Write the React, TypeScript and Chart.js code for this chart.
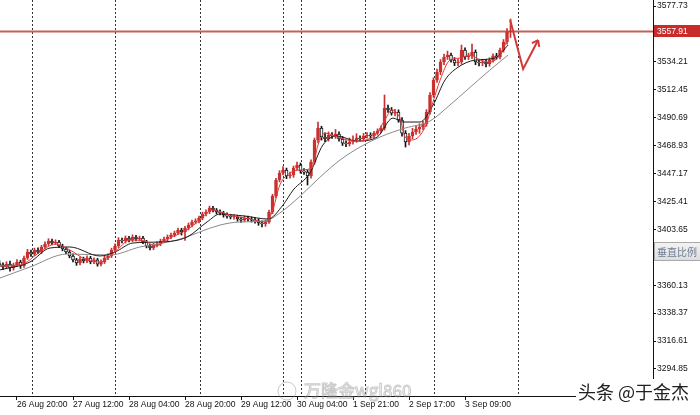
import React, { useEffect, useRef } from 'react';
import { Chart, registerables } from 'chart.js';

Chart.register(...registerables);

// ---- H1 candles (bar index 0..146) ----
const opens = [
  3377.0, 3375.9, 3374.3, 3376.6, 3373.5, 3375.9, 3378.2, 3375.1, 3381.3, 3386.0,
  3384.4, 3387.5, 3386.0, 3389.9, 3392.2, 3394.6, 3393.0, 3393.8, 3390.7, 3388.3,
  3386.0, 3382.9, 3379.8, 3377.4, 3380.5, 3379.0, 3381.3, 3378.2, 3379.8, 3376.6,
  3378.2, 3381.3, 3382.9, 3387.5, 3390.7, 3395.3, 3394.6, 3396.9, 3395.3, 3397.7,
  3396.1, 3396.9, 3393.8, 3390.7, 3389.1, 3391.4, 3392.2, 3394.6, 3396.1, 3397.7,
  3399.2, 3400.8, 3403.1, 3401.6, 3404.7, 3407.0, 3409.4, 3410.2, 3412.5, 3415.6,
  3417.2, 3420.3, 3418.7, 3417.2, 3416.4, 3414.8, 3414.0, 3413.3, 3413.3, 3411.7,
  3410.9, 3412.5, 3411.7, 3410.9, 3410.2, 3408.6, 3407.8, 3409.4, 3417.2, 3429.6,
  3442.1, 3447.6, 3449.9, 3445.2, 3446.0, 3451.5, 3453.8, 3449.1, 3448.3, 3445.2,
  3456.1, 3473.3, 3482.6, 3475.6, 3474.1, 3477.2, 3476.4, 3478.0, 3474.1, 3470.9,
  3470.2, 3471.7, 3473.3, 3474.8, 3474.1, 3476.4, 3477.2, 3476.4, 3478.7, 3480.3,
  3482.6, 3498.2, 3496.7, 3494.3, 3495.1, 3488.9, 3478.7, 3471.7, 3476.4, 3479.5,
  3481.9, 3483.4, 3485.8, 3495.1, 3508.4, 3520.0, 3526.3, 3534.1, 3538.0, 3539.5,
  3535.6, 3533.3, 3534.1, 3543.4, 3538.0, 3538.8, 3541.9, 3534.1, 3533.3, 3534.1,
  3532.5, 3535.6, 3538.8, 3538.0, 3543.4, 3549.7, 3557.5,
];
const highs = [
  3379.2, 3377.5, 3378.4, 3378.9, 3377.3, 3380.1, 3379.6, 3382.8, 3388.1, 3387.4,
  3389.0, 3389.3, 3391.2, 3394.0, 3396.4, 3396.1, 3395.5, 3395.0, 3392.1, 3389.6,
  3387.2, 3384.5, 3381.1, 3382.3, 3382.0, 3383.1, 3382.6, 3381.4, 3381.0, 3379.9,
  3382.9, 3384.6, 3389.0, 3392.4, 3397.2, 3396.8, 3398.5, 3398.3, 3399.4, 3399.0,
  3398.4, 3398.2, 3395.1, 3392.0, 3392.9, 3393.9, 3396.0, 3397.6, 3399.3, 3400.7,
  3402.3, 3404.6, 3404.5, 3406.1, 3408.6, 3410.8, 3411.9, 3413.9, 3417.0, 3418.8,
  3421.8, 3421.5, 3419.9, 3418.8, 3417.7, 3416.5, 3415.4, 3415.0, 3414.6, 3413.2,
  3414.2, 3414.0, 3413.3, 3412.6, 3411.8, 3410.3, 3411.0, 3418.6, 3431.0, 3443.5,
  3449.4, 3452.6, 3451.4, 3448.2, 3453.0, 3456.0, 3455.3, 3451.0, 3450.2, 3457.8,
  3474.8, 3487.3, 3484.0, 3478.9, 3479.6, 3479.0, 3481.5, 3479.6, 3476.0, 3472.6,
  3474.9, 3476.6, 3478.2, 3476.5, 3478.4, 3479.0, 3478.9, 3480.1, 3482.0, 3484.3,
  3508.4, 3500.5, 3498.6, 3497.2, 3496.8, 3490.7, 3480.6, 3478.5, 3482.4, 3484.6,
  3486.0, 3488.1, 3497.0, 3510.2, 3521.8, 3528.5, 3536.0, 3540.2, 3542.6, 3541.0,
  3537.5, 3536.6, 3547.3, 3545.2, 3541.0, 3548.1, 3543.5, 3536.3, 3536.0, 3536.2,
  3537.4, 3540.5, 3540.9, 3545.0, 3551.6, 3560.2, 3567.6,
];
const lows = [
  3374.6, 3372.2, 3372.9, 3371.0, 3371.8, 3374.5, 3373.2, 3374.0, 3380.2, 3382.5,
  3383.1, 3384.6, 3384.8, 3388.5, 3391.0, 3391.6, 3391.8, 3389.4, 3386.9, 3384.7,
  3381.4, 3378.3, 3375.6, 3376.0, 3377.5, 3377.6, 3376.8, 3376.9, 3374.9, 3375.2,
  3377.0, 3380.0, 3381.6, 3386.2, 3389.5, 3393.1, 3393.0, 3393.9, 3394.0, 3394.6,
  3394.5, 3392.4, 3389.2, 3387.6, 3387.8, 3390.0, 3390.9, 3393.2, 3394.8, 3396.4,
  3397.9, 3399.5, 3399.2, 3395.0, 3403.2, 3405.6, 3408.0, 3408.7, 3411.1, 3414.2,
  3415.9, 3417.2, 3415.6, 3414.8, 3413.1, 3412.3, 3411.8, 3411.6, 3410.0, 3409.1,
  3409.5, 3410.1, 3409.3, 3408.5, 3406.8, 3405.6, 3406.0, 3408.2, 3415.9, 3428.1,
  3440.6, 3446.0, 3443.1, 3443.5, 3444.2, 3449.8, 3447.4, 3446.4, 3438.2, 3443.6,
  3454.5, 3471.0, 3473.2, 3472.0, 3472.4, 3474.6, 3474.5, 3472.3, 3469.0, 3468.1,
  3468.6, 3470.0, 3471.5, 3472.6, 3472.5, 3474.8, 3474.6, 3474.9, 3477.1, 3478.8,
  3481.0, 3494.8, 3492.6, 3492.0, 3487.1, 3476.2, 3467.8, 3469.5, 3474.2, 3477.6,
  3478.5, 3481.2, 3484.0, 3493.4, 3506.5, 3518.1, 3524.2, 3532.0, 3536.1, 3533.9,
  3531.2, 3531.0, 3532.4, 3536.1, 3536.0, 3536.7, 3532.0, 3531.0, 3531.2, 3530.3,
  3530.8, 3534.0, 3536.3, 3536.5, 3541.8, 3548.0, 3553.2,
];
const closes = [
  3375.9, 3374.3, 3376.6, 3373.5, 3375.9, 3378.2, 3375.1, 3381.3, 3386.0, 3384.4,
  3387.5, 3386.0, 3389.9, 3392.2, 3394.6, 3393.0, 3393.8, 3390.7, 3388.3, 3386.0,
  3382.9, 3379.8, 3377.4, 3380.5, 3379.0, 3381.3, 3378.2, 3379.8, 3376.6, 3378.2,
  3381.3, 3382.9, 3387.5, 3390.7, 3395.3, 3394.6, 3396.9, 3395.3, 3397.7, 3396.1,
  3396.9, 3393.8, 3390.7, 3389.1, 3391.4, 3392.2, 3394.6, 3396.1, 3397.7, 3399.2,
  3400.8, 3403.1, 3401.6, 3404.7, 3407.0, 3409.4, 3410.2, 3412.5, 3415.6, 3417.2,
  3420.3, 3418.7, 3417.2, 3416.4, 3414.8, 3414.0, 3413.3, 3413.3, 3411.7, 3410.9,
  3412.5, 3411.7, 3410.9, 3410.2, 3408.6, 3407.8, 3409.4, 3417.2, 3429.6, 3442.1,
  3447.6, 3449.9, 3445.2, 3446.0, 3451.5, 3453.8, 3449.1, 3448.3, 3445.2, 3456.1,
  3473.3, 3482.6, 3475.6, 3474.1, 3477.2, 3476.4, 3478.0, 3474.1, 3470.9, 3470.2,
  3471.7, 3473.3, 3474.8, 3474.1, 3476.4, 3477.2, 3476.4, 3478.7, 3480.3, 3482.6,
  3498.2, 3496.7, 3494.3, 3495.1, 3488.9, 3478.7, 3471.7, 3476.4, 3479.5, 3481.9,
  3483.4, 3485.8, 3495.1, 3508.4, 3520.0, 3526.3, 3534.1, 3538.0, 3539.5, 3535.6,
  3533.3, 3534.1, 3543.4, 3538.0, 3538.8, 3541.9, 3534.1, 3533.3, 3534.1, 3532.5,
  3535.6, 3538.8, 3538.0, 3543.4, 3549.7, 3557.5, 3557.91,
];

// ---- moving averages: [bar index, price] ----
const maFast: [number, number][] = [
  [0.1, 3375.1], [5.9, 3375.9], [11.6, 3386.0], [15.9, 3392.2], [20.1, 3387.6], [24.4, 3380.5],
  [28.7, 3378.2], [33.0, 3386.0], [37.3, 3395.3], [41.6, 3394.6], [44.4, 3390.7], [48.7, 3396.9],
  [53.0, 3402.4], [57.3, 3410.9], [60.7, 3418.7], [65.9, 3414.8], [71.6, 3411.7], [75.9, 3409.4],
  [77.9, 3417.2], [80.1, 3438.2], [83.0, 3447.6], [85.9, 3449.9], [89.3, 3451.5], [91.0, 3469.4],
  [93.0, 3478.7], [97.3, 3474.8], [101.6, 3472.5], [107.3, 3477.2], [110.1, 3488.9], [112.1, 3496.7],
  [114.4, 3490.4], [115.9, 3475.6], [117.9, 3473.3], [121.6, 3483.4], [123.6, 3500.6], [125.9, 3520.1],
  [128.7, 3535.6], [131.6, 3537.2], [134.4, 3539.5], [137.3, 3535.6], [140.1, 3534.1], [143.0, 3539.5],
  [145.3, 3552.8],
];
const maMid: [number, number][] = [
  [0.1, 3372.0], [8.7, 3378.2], [14.4, 3389.1], [20.1, 3389.9], [28.7, 3382.9], [33.0, 3386.0],
  [38.1, 3393.0], [45.9, 3393.8], [53.6, 3397.7], [59.3, 3409.4], [63.0, 3415.6], [70.1, 3414.0],
  [76.7, 3411.7], [81.0, 3422.6], [83.9, 3434.3], [88.7, 3447.6], [92.4, 3469.4], [96.4, 3476.4],
  [102.1, 3472.5], [107.9, 3475.6], [112.4, 3490.4], [115.3, 3487.3], [120.1, 3487.3], [123.9, 3500.6],
  [127.3, 3520.1], [130.7, 3529.4], [135.9, 3535.6], [141.6, 3537.2], [145.3, 3547.3],
];
const maSlow: [number, number][] = [
  [0.1, 3365.7], [8.7, 3374.3], [19.3, 3384.4], [31.6, 3383.7], [40.1, 3389.9], [50.7, 3395.3],
  [63.0, 3407.0], [68.7, 3409.4], [75.9, 3410.2], [80.1, 3416.4], [85.9, 3429.6], [91.6, 3444.4],
  [97.3, 3457.7], [103.0, 3467.8], [108.7, 3475.6], [115.9, 3482.6], [123.0, 3488.1], [128.7, 3500.6],
  [133.6, 3512.3], [140.1, 3527.8], [145.3, 3539.5],
];

// hand-drawn forecast arrow: [bar index, price]
const drawnPath: [number, number][] = [[145.9, 3566.8], [149.6, 3528.6], [153.9, 3551.2]];

// ---- axes ----
const timeTickIdx = [5, 21, 37, 53, 69, 85, 101, 117, 133];
const timeTickLabels = [
  '26 Aug 20:00', '27 Aug 12:00', '28 Aug 04:00', '28 Aug 20:00', '29 Aug 12:00',
  '30 Aug 04:00', '1 Sep 21:00', '2 Sep 17:00', '3 Sep 09:00',
];
const priceTicks = [
  3577.73, 3534.21, 3512.45, 3490.69, 3468.93, 3447.17, 3425.41, 3403.65,
  3381.89, 3360.13, 3338.37, 3316.61, 3294.85,
];
const separators = [9.3, 33.0, 57.3, 81.0, 86.1, 104.4, 124.1, 148.1];
const bidPrice = 3557.91;
const priceMin = 3273.76;
const priceMax = 3582.41;
const barMin = 0.143;
const barMax = 186.71;

const UP = '#c93131';
const DOWN = '#111111';
const FONT = 'Liberation Sans, Arial, sans-serif';

const overlay = {
  id: 'mt4overlay',
  beforeDatasetsDraw(chart: any) {
    const { ctx, chartArea: a, scales } = chart;
    const x = scales.x;
    const y = scales.y;
    ctx.save();
    ctx.beginPath();
    ctx.rect(a.left, a.top, a.right - a.left, a.bottom - a.top);
    ctx.clip();
    ctx.strokeStyle = '#333';
    ctx.lineWidth = 1;
    ctx.setLineDash([2, 2]);
    separators.forEach((s) => {
      const px = Math.round(x.getPixelForValue(s)) + 0.5;
      ctx.beginPath();
      ctx.moveTo(px, a.top);
      ctx.lineTo(px, a.bottom);
      ctx.stroke();
    });
    ctx.setLineDash([]);
    const by = y.getPixelForValue(bidPrice);
    ctx.strokeStyle = 'rgba(196,86,76,0.95)';
    ctx.lineWidth = 2;
    ctx.beginPath();
    ctx.moveTo(a.left, by);
    ctx.lineTo(a.right, by);
    ctx.stroke();
    ctx.restore();
  },
  afterDraw(chart: any) {
    const { ctx, chartArea: a, scales } = chart;
    const x = scales.x;
    const y = scales.y;
    ctx.save();
    // arrow head of the drawn path
    const pts = drawnPath.map(([i, p]) => [x.getPixelForValue(i), y.getPixelForValue(p)]);
    const [ax, ay] = pts[pts.length - 1];
    const [bx, by0] = pts[pts.length - 2];
    const ang = Math.atan2(ay - by0, ax - bx);
    ctx.strokeStyle = '#d23a3a';
    ctx.lineWidth = 2;
    ctx.beginPath();
    [Math.PI * 0.8, -Math.PI * 0.8].forEach((d) => {
      ctx.moveTo(ax, ay);
      ctx.lineTo(ax + 7 * Math.cos(ang + d), ay + 7 * Math.sin(ang + d));
    });
    ctx.stroke();

    // bid price label
    const bpy = y.getPixelForValue(bidPrice);
    ctx.fillStyle = '#c92b2b';
    ctx.fillRect(a.right + 1, Math.round(bpy) - 6, 47, 12);
    ctx.fillStyle = '#ffffff';
    ctx.font = `8.5px ${FONT}`;
    ctx.textBaseline = 'middle';
    ctx.textAlign = 'left';
    ctx.fillText(bidPrice.toFixed(2), a.right + 4, bpy);

    // 垂直比例 button
    const g = ctx.createLinearGradient(0, 242, 0, 261);
    g.addColorStop(0, '#f4f4f4');
    g.addColorStop(1, '#dcdcdc');
    ctx.fillStyle = g;
    ctx.fillRect(a.right + 1.5, 242.5, 50, 18);
    ctx.strokeStyle = '#a9a9a9';
    ctx.lineWidth = 1;
    ctx.strokeRect(a.right + 1.5, 242.5, 50, 18);
    ctx.fillStyle = '#6f7d96';
    ctx.font = '10px "Noto Sans CJK SC", sans-serif';
    ctx.fillText('垂直比例', a.right + 4, 252);

    // faint weibo watermark
    ctx.strokeStyle = 'rgba(150,150,150,0.5)';
    ctx.lineWidth = 1;
    ctx.beginPath();
    ctx.arc(287, 391, 9, 0, Math.PI * 2);
    ctx.stroke();
    ctx.font = '17px "Noto Sans CJK SC", sans-serif';
    ctx.textBaseline = 'alphabetic';
    ctx.strokeText('万隆金wgl860', 304, 397);

    // toutiao watermark
    ctx.fillStyle = '#ffffff';
    ctx.fillRect(576, 379, 124, 36);
    ctx.fillStyle = '#222222';
    ctx.font = '18px "Noto Sans CJK SC", sans-serif';
    ctx.fillText('头条 @于金杰', 578, 399);
    ctx.restore();
  },
};

export default function App() {
  const ref = useRef<HTMLCanvasElement | null>(null);
  useEffect(() => {
    document.body.style.margin = '0';
    if (!ref.current) return;
    const idx = closes.map((_, i) => i);
    const isUp = closes.map((c, i) => c >= opens[i]);
    const chart = new Chart(ref.current, {
      type: 'bar',
      data: {
        datasets: [
          {
            type: 'line', label: 'MA fast', data: maFast.map(([i, p]) => ({ x: i, y: p })),
            borderColor: '#e23a3a', borderWidth: 1, pointRadius: 0, cubicInterpolationMode: 'monotone', order: 0,
          },
          {
            type: 'line', label: 'MA mid', data: maMid.map(([i, p]) => ({ x: i, y: p })),
            borderColor: '#1a1a1a', borderWidth: 1, pointRadius: 0, cubicInterpolationMode: 'monotone', order: 0,
          },
          {
            type: 'line', label: 'MA slow', data: maSlow.map(([i, p]) => ({ x: i, y: p })),
            borderColor: '#8a8a8a', borderWidth: 1, pointRadius: 0, cubicInterpolationMode: 'monotone', order: 0,
          },
          {
            type: 'line', label: 'drawn', data: drawnPath.map(([i, p]) => ({ x: i, y: p })),
            borderColor: '#d23a3a', borderWidth: 2, pointRadius: 0, tension: 0, order: 0,
          },
          {
            type: 'bar', label: 'wick', data: idx.map((i) => ({ x: i, y: [lows[i], highs[i]] })) as any,
            backgroundColor: isUp.map((u) => (u ? UP : DOWN)), barThickness: 1, grouped: false, order: 2,
          },
          {
            type: 'bar', label: 'body',
            data: idx.map((i) => ({ x: i, y: [Math.min(opens[i], closes[i]), Math.max(opens[i], closes[i])] })) as any,
            backgroundColor: isUp.map((u) => (u ? UP : '#ffffff')),
            borderColor: isUp.map((u) => (u ? UP : DOWN)),
            borderWidth: 1, borderSkipped: false, barThickness: 3, minBarLength: 1, grouped: false, order: 1,
          },
        ] as any,
      },
      options: {
        animation: false,
        responsive: false,
        devicePixelRatio: 1,
        events: [],
        layout: { padding: 0 },
        plugins: { legend: { display: false }, tooltip: { enabled: false } },
        scales: {
          x: {
            type: 'linear',
            min: barMin,
            max: barMax,
            offset: false,
            afterBuildTicks: (s: any) => { s.ticks = timeTickIdx.map((v) => ({ value: v })); },
            afterFit: (s: any) => { s.height = 19; s.paddingLeft = 0; s.paddingRight = 0; },
            grid: { drawOnChartArea: false, offset: false, tickLength: 4, color: '#111' },
            border: { display: true, color: '#111', width: 1 },
            ticks: {
              autoSkip: false, maxRotation: 0, minRotation: 0, align: 'start', padding: 0,
              color: '#111', font: { family: FONT, size: 8.5 },
              callback: (v: any) => {
                const k = timeTickIdx.indexOf(Number(v));
                return k >= 0 ? timeTickLabels[k] : '';
              },
            },
          },
          y: {
            type: 'linear',
            position: 'right',
            min: priceMin,
            max: priceMax,
            afterBuildTicks: (s: any) => { s.ticks = priceTicks.map((v) => ({ value: v })); },
            afterFit: (s: any) => { s.width = 47; s.paddingTop = 0; s.paddingBottom = 0; },
            grid: { drawOnChartArea: false, tickLength: 3, color: '#111' },
            border: { display: true, color: '#111', width: 1 },
            ticks: {
              padding: 1, color: '#111', font: { family: FONT, size: 8.5 },
              callback: (v: any) => Number(v).toFixed(2),
            },
          },
        },
      } as any,
      plugins: [overlay],
    });
    return () => chart.destroy();
  }, []);
  return (
    <div style={{ width: 700, height: 415, position: 'relative', background: '#fff' }}>
      <canvas ref={ref} width={700} height={415} style={{ display: 'block' }} />
    </div>
  );
}
